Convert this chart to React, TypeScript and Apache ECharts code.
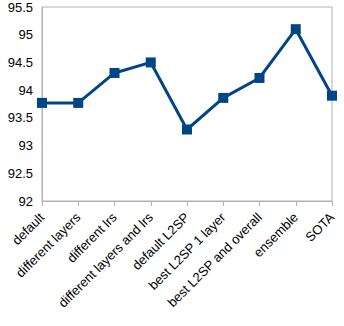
import React, { useEffect, useRef } from "react";
import * as echarts from "echarts";

const categories = [
  "default",
  "different layers",
  "different lrs",
  "different layers and lrs",
  "default L2SP",
  "best L2SP 1 layer",
  "best L2SP and overall",
  "ensemble",
  "SOTA",
];
const values = [93.77, 93.77, 94.31, 94.5, 93.29, 93.86, 94.22, 95.1, 93.9];

export default function App() {
  const ref = useRef<HTMLDivElement>(null);
  useEffect(() => {
    const chart = echarts.init(ref.current!, null, { renderer: "svg" });
    chart.setOption({
      animation: false,
      backgroundColor: "#ffffff",
      grid: {
        left: 42,
        right: 12,
        top: 7,
        bottom: 125,
        show: true,
        borderColor: "#b3b3b3",
        borderWidth: 1,
      },
      xAxis: {
        type: "category",
        data: categories,
        boundaryGap: false,
        axisLine: { lineStyle: { color: "#b3b3b3", width: 1 } },
        axisTick: { show: true, alignWithLabel: true, length: 5, lineStyle: { color: "#b3b3b3" } },
        axisLabel: {
          rotate: 45,
          interval: 0,
          margin: 14,
          color: "#000000",
          fontSize: 13,
          fontFamily: "Liberation Sans",
        },
        splitLine: { show: false },
      },
      yAxis: {
        type: "value",
        min: 92,
        max: 95.5,
        interval: 0.5,
        axisLine: { show: true, lineStyle: { color: "#b3b3b3", width: 1 } },
        axisTick: { show: false },
        axisLabel: {
          margin: 9,
          color: "#000000",
          fontSize: 13,
          fontFamily: "Liberation Sans",
        },
        splitLine: { show: false },
      },
      series: [
        {
          type: "line",
          data: values,
          symbol: "rect",
          symbolSize: 10,
          lineStyle: { color: "#004586", width: 3 },
          itemStyle: { color: "#004586" },
        },
      ],
    });
    return () => chart.dispose();
  }, []);
  return (
    <div
      ref={ref}
      style={{ position: "absolute", left: 0, top: 0, width: 344, height: 326 }}
    />
  );
}
